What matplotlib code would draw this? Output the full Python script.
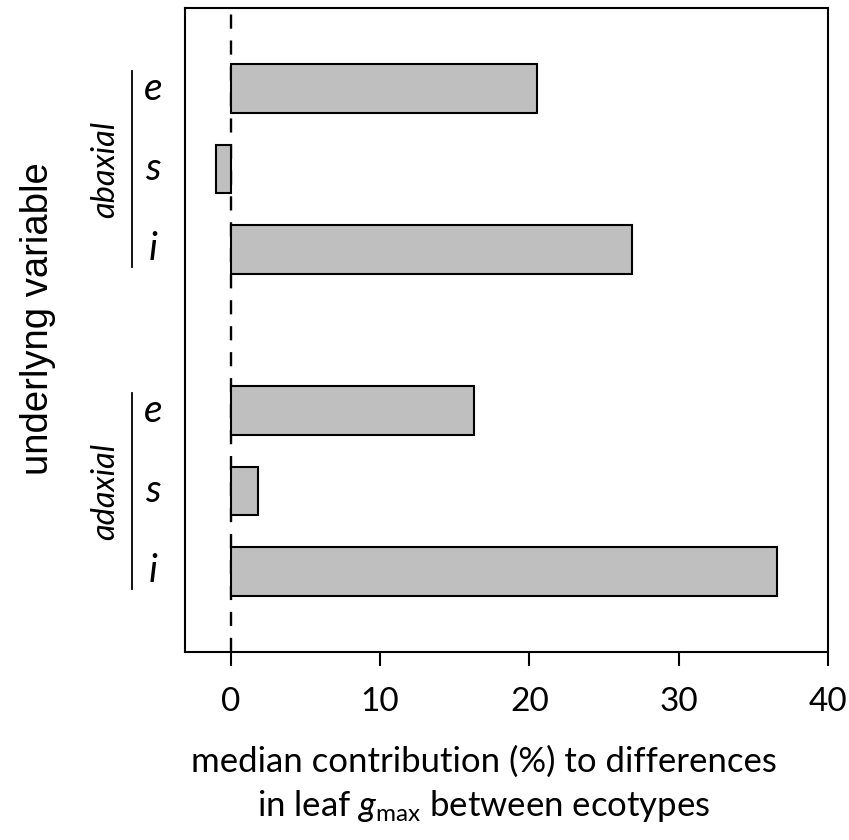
import numpy as np
import matplotlib
matplotlib.use("Agg")
import matplotlib.pyplot as plt

plt.rcParams["mathtext.fontset"] = "custom"
plt.rcParams["mathtext.rm"] = "Lato"
plt.rcParams["mathtext.it"] = "Lato:italic"

# values (median contribution, %)
groups = ["adaxial", "abaxial"]
variables = ["i", "s", "e"]
adaxial_vals = [36.6, 1.8, 16.3]
abaxial_vals = [26.9, -1.0, 20.5]
ticks_x = [0, 10, 20, 30, 40]

# bar positions: adaxial 1..3, gap, abaxial 5..7
pos_ad = np.array([1, 2, 3])
pos_ab = np.array([5, 6, 7])

fig = plt.figure(figsize=(8.49, 8.40), dpi=100)
ax = fig.add_axes([185 / 849, 1 - 652 / 840, (828 - 185) / 849, (652 - 8) / 840])

ax.axvline(0, color="black", lw=1.7, dashes=(6, 5), zorder=1)
ax.barh(pos_ad, adaxial_vals, height=0.6, color="#bfbfbf",
        edgecolor="black", linewidth=1.5, zorder=2)
ax.barh(pos_ab, abaxial_vals, height=0.6, color="#bfbfbf",
        edgecolor="black", linewidth=1.5, zorder=2)

ax.set_xlim(-3.07, 40)
ax.set_ylim(0, 8)
ax.set_xticks(ticks_x)
ax.set_xticklabels([str(t) for t in ticks_x], fontsize=24, family="Lato")
ax.tick_params(axis="x", length=10, width=1.5, pad=15)
ax.set_yticks([])
for sp in ax.spines.values():
    sp.set_linewidth(1.5)

# variable labels and group brackets left of the axes
for pos, name in zip(list(pos_ad) + list(pos_ab), variables * 2):
    ax.text(-5.2, pos, name, ha="center", va="center", fontsize=28,
            style="italic", family="Lato", clip_on=False)

for pos, name in [(pos_ad, "adaxial"), (pos_ab, "abaxial")]:
    ax.plot([-6.6, -6.6], [pos[0] - 0.22, pos[-1] + 0.22], color="black",
            lw=1.3, clip_on=False)
    ax.text(-8.4, pos[1], name, ha="center", va="center", rotation=90,
            fontsize=23.5, style="italic", family="Lato", clip_on=False)

fig.text(38 / 849, 1 - 319 / 840, "underlyng variable", rotation=90,
         ha="center", va="center", fontsize=27.5, family="Liberation Sans")

fig.text(484 / 849, 1 - 762 / 840, "median contribution (%) to differences",
         ha="center", va="center", fontsize=25, family="Lato")
fig.text(484 / 849, 1 - 806 / 840, r"in leaf $g_{\mathrm{max}}$ between ecotypes",
         ha="center", va="center", fontsize=25, family="Lato")

fig.savefig("out.png", dpi=100)
